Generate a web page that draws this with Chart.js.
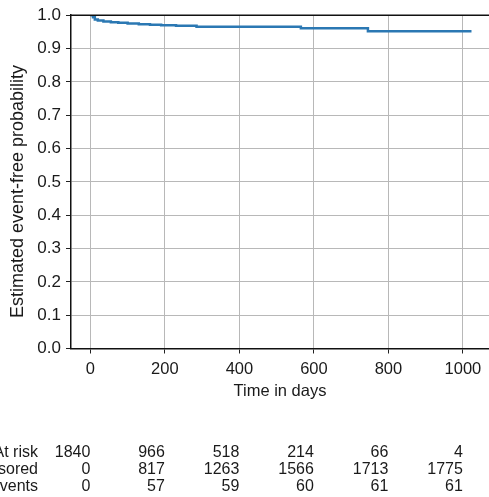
<!DOCTYPE html>
<html><head><meta charset="utf-8">
<script src="https://cdn.jsdelivr.net/npm/chart.js@4"></script>
<style>html,body{margin:0;padding:0;background:#fff;overflow:hidden;}</style>
</head><body>
<canvas id="c" width="489" height="497" style="display:block;width:489px;height:497px"></canvas>
<script>
// Kaplan-Meier curve
const times    = [0, 7, 12, 20, 35, 55, 75, 100, 130, 160, 190, 230, 285, 565, 745, 1023];
const survival = [1.0, 0.994, 0.987, 0.984, 0.981, 0.979, 0.977, 0.975, 0.973, 0.971, 0.970, 0.968, 0.965, 0.961, 0.952, 0.952];

const xTicks = [0, 200, 400, 600, 800, 1000];
const yTicks = [0.0, 0.1, 0.2, 0.3, 0.4, 0.5, 0.6, 0.7, 0.8, 0.9, 1.0];

// risk table
const riskTimes = [0, 200, 400, 600, 800, 1000];
const atRisk    = [1840, 966, 518, 214, 66, 4];
const censored  = [0, 817, 1263, 1566, 1713, 1775];
const events    = [0, 57, 59, 60, 61, 61];
const rowLabels = ['At risk', 'Censored', 'Events'];

const xTitle = 'Time in days';
const yTitle = 'Estimated event-free probability';

const FONT = 'Liberation Sans';
const TXT = '#1a1a1a';

const extras = {
  id: 'extras',
  afterDraw(chart) {
    const c = chart.ctx, a = chart.chartArea, xs = chart.scales.x;
    c.save();
    // top spine
    c.strokeStyle = '#111';
    c.lineWidth = 1.5;
    c.beginPath();
    c.moveTo(a.left, a.top);
    c.lineTo(a.right, a.top);
    c.stroke();
    // y title
    c.fillStyle = TXT;
    c.font = '18px "' + FONT + '"';
    c.textAlign = 'center';
    c.textBaseline = 'middle';
    c.translate(18.5, 191.5);
    c.rotate(-Math.PI / 2);
    c.fillText(yTitle, 0, 0);
    c.restore();
    // risk table
    c.save();
    c.fillStyle = TXT;
    c.font = '16px "' + FONT + '"';
    c.textAlign = 'right';
    c.textBaseline = 'middle';
    const rows = [atRisk, censored, events];
    rows.forEach((row, r) => {
      const y = 453 + r * 17;
      c.fillText(rowLabels[r], 38, y);
      row.forEach((v, i) => {
        c.fillText(String(v), xs.getPixelForValue(riskTimes[i]), y);
      });
    });
    c.restore();
  }
};

new Chart(document.getElementById('c'), {
  type: 'line',
  data: {
    datasets: [{
      data: times.map((t, i) => ({ x: t, y: survival[i] })),
      borderColor: '#2b78b3',
      borderWidth: 2.5,
      pointRadius: 0,
      stepped: 'before',
      fill: false
    }]
  },
  options: {
    responsive: false,
    animation: false,
    devicePixelRatio: 1,
    layout: { padding: { top: 15, left: 0, right: 0, bottom: 91.5 } },
    plugins: { legend: { display: false }, tooltip: { enabled: false } },
    scales: {
      x: {
        type: 'linear', min: -52, max: 1070,
        afterBuildTicks: s => { s.ticks = xTicks.map(v => ({ value: v })); },
        afterFit: s => { s.height = 57; },
        grid: { color: '#b8b8b8', lineWidth: 1, tickColor: '#222', tickLength: 5 },
        border: { color: '#111', width: 1.5 },
        ticks: { color: TXT, font: { family: FONT, size: 16.5 }, padding: 6, maxRotation: 0, autoSkip: false, callback: v => String(v) },
        title: { display: true, text: xTitle, color: TXT, font: { family: FONT, size: 16.5 }, padding: { top: 4, bottom: 4 } }
      },
      y: {
        min: 0, max: 1,
        afterBuildTicks: s => { s.ticks = yTicks.map(v => ({ value: v })); },
        afterFit: s => { s.width = 71; },
        grid: { color: '#b8b8b8', lineWidth: 1, tickColor: '#222', tickLength: 5 },
        border: { color: '#111', width: 1.5 },
        ticks: { color: TXT, font: { family: FONT, size: 17 }, padding: 5, callback: v => v.toFixed(1) }
      }
    }
  },
  plugins: [extras]
});
</script>
</body></html>
